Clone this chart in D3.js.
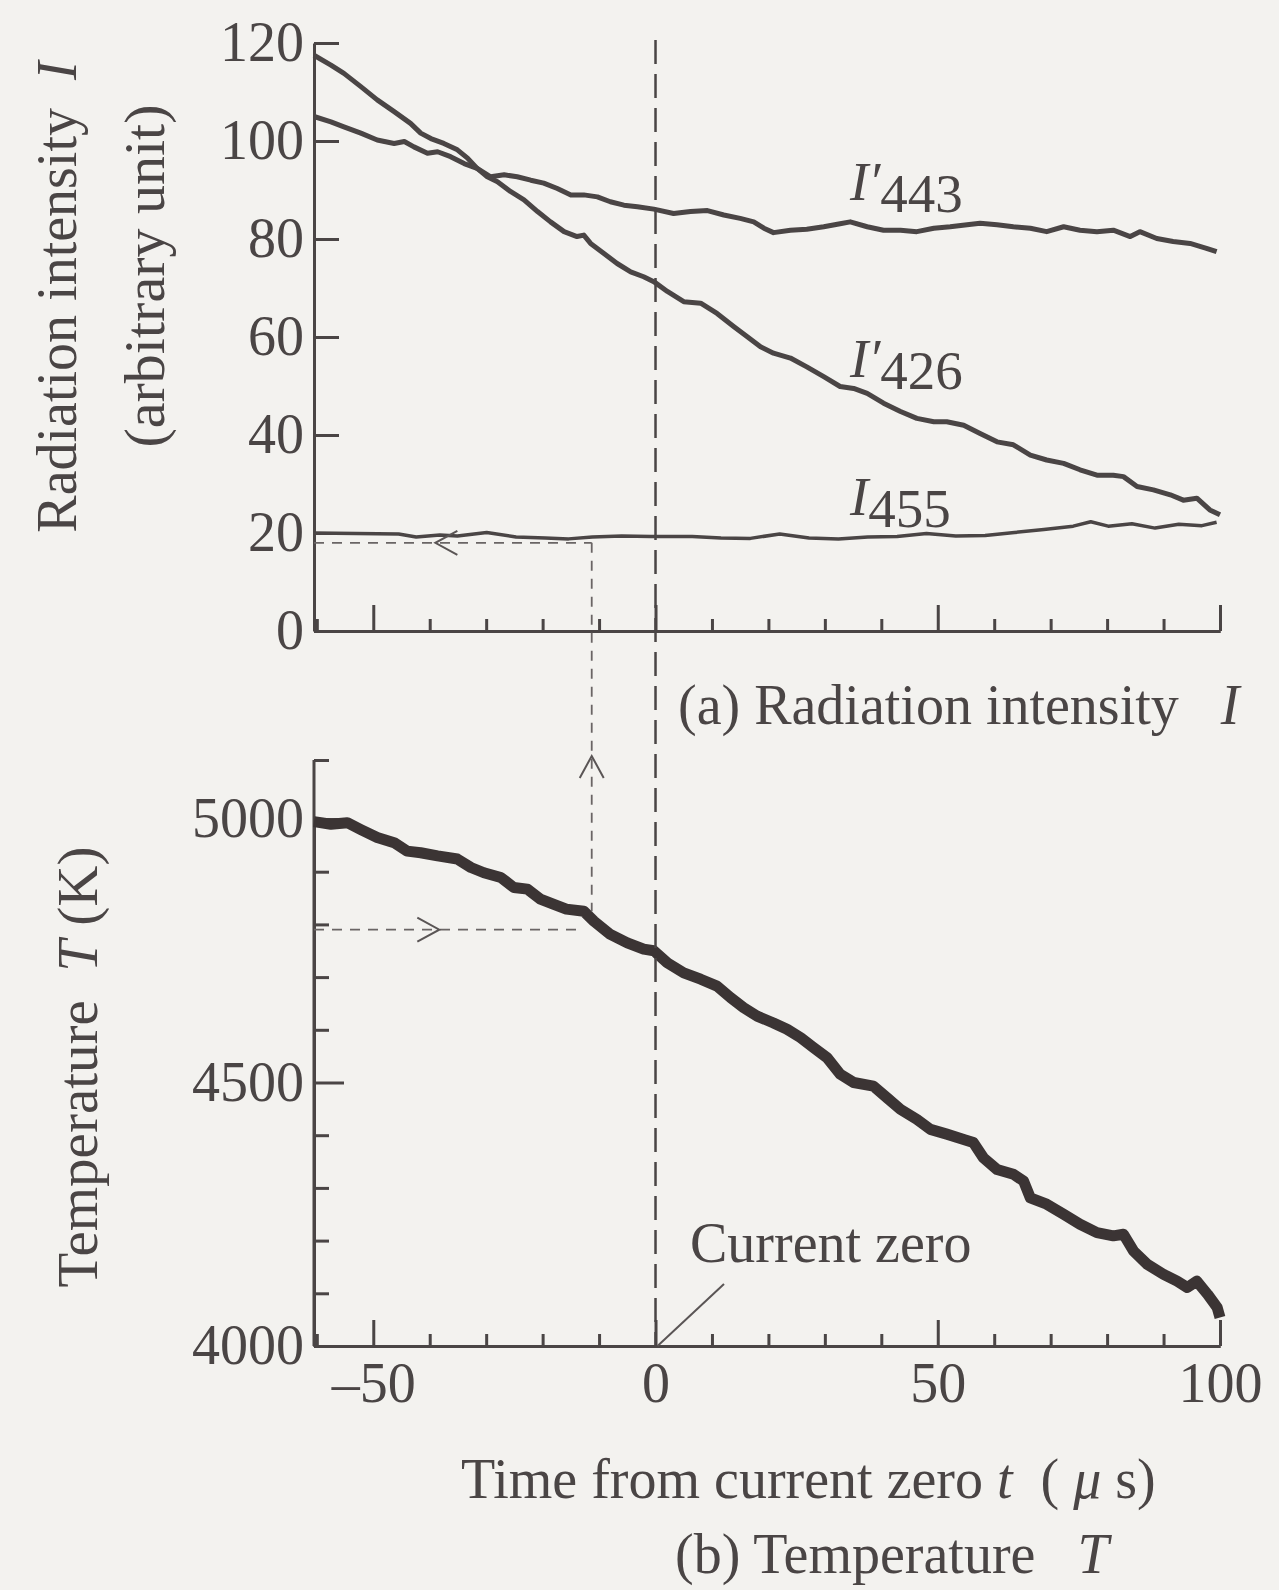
<!DOCTYPE html>
<html>
<head>
<meta charset="utf-8">
<script src="https://cdn.jsdelivr.net/npm/d3@7/dist/d3.min.js"></script>
<style>
  body { margin: 0; background: #f3f2ef; }
  svg text { font-family: "Liberation Serif", "Times New Roman", serif; fill: #4a4545; white-space: pre; }
</style>
</head>
<body>
<div id="chart"></div>
<script>
// time axis (microseconds) and tick values
var timeTicksMajor = [-50, 0, 50, 100];
var timeTicksMinor = [-60, -40, -30, -20, -10, 10, 20, 30, 40, 60, 70, 80, 90];
var intensityTicks = [0, 20, 40, 60, 80, 100, 120];
var tempTicksMajor = [4000, 4500, 5000];
var tempTicksMinor = [4100, 4200, 4300, 4400, 4600, 4700, 4800, 4900];

// I'426  [t, I]
var i426 = [[-60.5,117.5],[-57.5,115.5],[-55.2,113.8],[-52.2,111.1],[-49.3,108.4],[-46.3,106],[-43.4,103.6],[-41.6,101.6],
  [-39.8,100.5],[-37.5,99.5],[-35.1,98.2],[-33.3,96.5],[-31.6,94.4],[-29.8,92.7],[-28,91.7],[-25.7,89.7],[-23.3,88],
  [-20.9,85.6],[-18.6,83.5],[-16.2,81.5],[-13.9,80.5],[-12.7,80.8],[-11.5,79.1],[-9.2,77.1],[-6.8,75],[-4.4,73.3],
  [-2.1,72.3],[-0.3,71.3],[2.1,69.3],[5,67.2],[8,66.9],[10.9,64.8],[13.9,62.1],[16.2,60.1],[18.6,58],[20.9,56.7],
  [23.9,55.7],[26.8,53.9],[29.8,51.9],[32.7,49.9],[35.1,49.5],[37.5,48.5],[40.4,46.5],[43.4,44.8],[46.3,43.4],
  [49.3,42.7],[51.6,42.7],[54.6,42],[57.5,40.3],[60.5,38.6],[63.4,38],[66.4,35.9],[69.3,34.9],[72.3,34.2],[75.2,32.9],
  [78.2,31.8],[81.1,31.8],[82.9,31.5],[85.3,29.5],[88.2,28.8],[91.2,27.8],[93.5,26.7],[95.9,27.1],[98.2,24.7],[100,23.7]];

// I'443
var i443 = [[-60.5,105],[-57.5,103.9],[-55.2,102.9],[-52.2,101.6],[-49.3,100.2],[-46.3,99.5],[-44.5,99.9],[-42.8,98.8],
  [-40.4,97.5],[-38.6,97.8],[-36.3,96.8],[-33.9,95.4],[-31.6,94.4],[-29.2,92.7],[-26.8,93.1],[-24.5,92.7],[-22.1,92],
  [-19.8,91.4],[-17.4,90.3],[-15,89],[-12.7,89],[-10.3,88.6],[-8,87.6],[-5.6,86.9],[-3.2,86.6],[-0.3,86.1],[3.2,85.2],
  [6.2,85.6],[9.2,85.8],[12.1,84.9],[15,84.2],[17.4,83.5],[19.2,82.2],[20.9,81.3],[23.9,81.8],[26.8,82],[29.8,82.5],
  [32.7,83.1],[34.5,83.5],[37.5,82.5],[40.4,81.8],[43.4,81.8],[46.3,81.5],[49.3,82.2],[52.2,82.5],[55.2,82.9],
  [57.5,83.2],[60.5,82.9],[63.4,82.5],[66.4,82.2],[69.3,81.5],[72.3,82.5],[75.2,81.8],[78.2,81.5],[81.1,81.8],
  [84.1,80.5],[85.8,81.5],[88.8,80.1],[91.7,79.5],[94.7,79.1],[97.6,78.1],[99.4,77.4]];

// I455
var i455 = [[-60.5,20],[-45.5,19.8],[-42.4,19.2],[-38.2,19.6],[-35.1,19.4],[-29.9,20.1],[-24.7,19.2],[-19.5,19],
  [-15.4,18.8],[-11.2,19.2],[-6,19.4],[-0.8,19.3],[6.5,19.3],[11.6,19],[16.8,18.9],[22,19.8],[27.2,19],[32.4,18.8],
  [37.6,19.2],[42.8,19.3],[48,19.9],[53.2,19.4],[58.4,19.5],[63.6,20.1],[68.8,20.7],[74,21.4],[77.1,22.3],[80.2,21.4],
  [84.4,21.9],[88.5,21],[92.7,21.8],[96.8,21.5],[99.4,22.2]];

// temperature T (K)
var tempK = [[-60.5,4995],[-57.5,4990],[-54.6,4993],[-52.2,4980],[-49.3,4965],[-46.3,4955],[-44,4939],[-41.6,4936],
  [-38.6,4930],[-35.1,4924],[-32.7,4908],[-30.4,4898],[-27.4,4889],[-25.1,4870],[-22.7,4867],[-20.4,4848],[-18,4838],
  [-15.8,4829],[-12.7,4825],[-10.9,4806],[-8,4781],[-5,4765],[-2.1,4753],[-0.3,4750],[2.1,4727],[5,4708],[8,4696],
  [10.9,4683],[13.3,4661],[15.6,4642],[18,4626],[20.9,4613],[23.3,4601],[25.7,4585],[28,4566],[30.4,4547],[32.7,4516],
  [35.1,4500],[38.6,4493],[41,4471],[43.4,4449],[46.3,4430],[48.7,4411],[51.6,4402],[54.6,4392],[56.3,4386],[58.1,4357],
  [60.5,4335],[63.4,4326],[65.2,4313],[66.4,4281],[69.3,4269],[72.3,4250],[75.2,4231],[78.2,4215],[81.1,4209],
  [82.9,4212],[84.7,4180],[87.1,4155],[90,4136],[92.4,4123],[94.2,4111],[95.9,4123],[97.8,4098],[99.5,4073],[100,4054]];

// reading example (dashed construction lines)
var readT = -11.3, readI = 18, readTemp = 4825, readTempLine = 4790;

var ink = "#4a4545";

var width = 1279, height = 1590;
var svg = d3.select("#chart").append("svg")
  .attr("width", width)
  .attr("height", height);

svg.append("rect").attr("width", width).attr("height", height).attr("fill", "#f3f2ef");

var x = d3.scaleLinear().domain([-60.5, 100]).range([314, 1220]);
var yI = d3.scaleLinear().domain([0, 120]).range([631, 43]);
var yT = d3.scaleLinear().domain([4000, 5000]).range([1346, 819]);

var line = function(ys) {
  return d3.line().x(function(d) { return x(d[0]); }).y(function(d) { return ys(d[1]); });
};

// ---------- (a) radiation intensity ----------
var gTop = svg.append("g");

// y axis with inward ticks
gTop.append("g")
  .attr("class", "y axis")
  .attr("transform", "translate(" + x(-60.5) + ",0)")
  .call(d3.axisLeft(yI).tickValues(intensityTicks).tickSizeInner(-25).tickSizeOuter(0).tickPadding(10));

// x axis: minor and major ticks pointing up
gTop.append("g")
  .attr("transform", "translate(0," + yI(0) + ")")
  .call(d3.axisBottom(x).tickValues(timeTicksMinor).tickSizeInner(-12).tickSizeOuter(0).tickFormat(""));
gTop.append("g")
  .attr("transform", "translate(0," + yI(0) + ")")
  .call(d3.axisBottom(x).tickValues(timeTicksMajor).tickSizeInner(-26).tickSizeOuter(0).tickFormat(""));

// ---------- (b) temperature ----------
var gBot = svg.append("g");

gBot.append("g")
  .attr("transform", "translate(" + x(-60.5) + ",0)")
  .call(d3.axisLeft(yT).tickValues(tempTicksMajor).tickSizeInner(-30).tickSizeOuter(0).tickPadding(10)
    .tickFormat(d3.format("d")));
gBot.append("g")
  .attr("transform", "translate(" + x(-60.5) + ",0)")
  .call(d3.axisLeft(yT).tickValues(tempTicksMinor.concat([5112])).tickSizeInner(-15).tickSizeOuter(0).tickFormat(""));
// extend y axis up to top tick
gBot.append("line")
  .attr("x1", x(-60.5)).attr("x2", x(-60.5))
  .attr("y1", yT(5112)).attr("y2", yT(4000));

gBot.append("g")
  .attr("transform", "translate(0," + yT(4000) + ")")
  .call(d3.axisBottom(x).tickValues(timeTicksMinor).tickSizeInner(-12).tickSizeOuter(0).tickFormat(""));
gBot.append("g")
  .attr("class", "x labels")
  .attr("transform", "translate(0," + yT(4000) + ")")
  .call(d3.axisBottom(x).tickValues(timeTicksMajor).tickSizeInner(-26).tickSizeOuter(0).tickPadding(40)
    .tickFormat(function(d) { return d < 0 ? "\u2013" + Math.abs(d) : d; }));

// style axes
svg.selectAll(".domain, .tick line, line").attr("stroke", ink).attr("stroke-width", 3);
svg.selectAll(".tick text").attr("font-size", 56).attr("fill", ink)
  .attr("font-family", "Liberation Serif, serif");
svg.selectAll(".x.labels .tick text").attr("dy", "0.35em").attr("y", 36);

// ---------- curves ----------
gTop.append("path").datum(i443).attr("d", line(yI))
  .attr("fill", "none").attr("stroke", ink).attr("stroke-width", 5).attr("stroke-linejoin", "round");
gTop.append("path").datum(i426).attr("d", line(yI))
  .attr("fill", "none").attr("stroke", ink).attr("stroke-width", 5).attr("stroke-linejoin", "round");
gTop.append("path").datum(i455).attr("d", line(yI))
  .attr("fill", "none").attr("stroke", ink).attr("stroke-width", 3.5).attr("stroke-linejoin", "round");
gBot.append("path").datum(tempK).attr("d", line(yT))
  .attr("fill", "none").attr("stroke", "#3b3434").attr("stroke-width", 11).attr("stroke-linejoin", "round");

// ---------- current zero dashed line ----------
svg.append("line")
  .attr("x1", x(0)).attr("x2", x(0))
  .attr("y1", 40).attr("y2", yT(4000))
  .attr("stroke", ink).attr("stroke-width", 2.5).attr("stroke-dasharray", "24,10");

// ---------- construction lines ----------
var thin = { stroke: "#6a6565", "stroke-width": 1.8, "stroke-dasharray": "10,8", fill: "none" };
function dashed(x1, y1, x2, y2) {
  var l = svg.append("line").attr("x1", x1).attr("y1", y1).attr("x2", x2).attr("y2", y2);
  for (var k in thin) l.attr(k, thin[k]);
  return l;
}
dashed(x(-60.5), yI(readI), x(readT), yI(readI));
dashed(x(readT), yI(readI), x(readT), yT(readTemp));
dashed(x(-60.5), yT(readTempLine), x(-14), yT(readTempLine));

function chevron(px, py, dir) {
  // open arrow head: dir = "left" | "right" | "up"
  var a = 22, b = 12, pts;
  if (dir == "left") pts = [[px + a, py - b], [px, py], [px + a, py + b]];
  else if (dir == "right") pts = [[px - a, py - b], [px, py], [px - a, py + b]];
  else pts = [[px - b, py + a], [px, py], [px + b, py + a]];
  svg.append("path").attr("d", d3.line()(pts))
    .attr("fill", "none").attr("stroke", "#5a5555").attr("stroke-width", 2);
}
chevron(x(-39), yI(readI), "left");
chevron(x(readT), 756, "up");
chevron(x(-38.3), yT(readTempLine), "right");

// ---------- labels ----------
function label(txt, tx, ty, size) {
  return svg.append("text").attr("x", tx).attr("y", ty).attr("font-size", size || 56).text(txt);
}

function seriesLabel(tx, ty, prime, sub) {
  var t = svg.append("text").attr("x", tx).attr("y", ty).attr("font-size", 55);
  t.append("tspan").attr("font-style", "italic").text(prime ? "I\u2032" : "I");
  t.append("tspan").attr("dy", 12).text(sub);
}
seriesLabel(850, 200, true, "443");
seriesLabel(850, 377, true, "426");
seriesLabel(850, 515, false, "455");

var capA = svg.append("text").attr("x", 678).attr("y", 724).attr("font-size", 56);
capA.append("tspan").text("(a) Radiation intensity   ");
capA.append("tspan").attr("font-style", "italic").text("I");

var capB = svg.append("text").attr("x", 675).attr("y", 1573).attr("font-size", 56);
capB.append("tspan").text("(b) Temperature   ");
capB.append("tspan").attr("font-style", "italic").text("T");

var xt = svg.append("text").attr("x", 461).attr("y", 1498).attr("font-size", 56);
xt.append("tspan").text("Time from current zero ");
xt.append("tspan").attr("font-style", "italic").text("t");
xt.append("tspan").text("  ( ");
xt.append("tspan").attr("font-style", "italic").text("\u03bc");
xt.append("tspan").text(" s)");

label("Current zero", 690, 1262);
svg.append("line").attr("x1", x(0) + 2).attr("y1", yT(4000)).attr("x2", 724).attr("y2", 1284)
  .attr("stroke", "#5a5555").attr("stroke-width", 2);

var yl1 = svg.append("text").attr("transform", "translate(76,297) rotate(-90)")
  .attr("text-anchor", "middle").attr("font-size", 56);
yl1.append("tspan").text("Radiation intensity  ");
yl1.append("tspan").attr("font-style", "italic").text("I");

svg.append("text").attr("transform", "translate(164,276) rotate(-90)")
  .attr("text-anchor", "middle").attr("font-size", 58).text("(arbitrary unit)");

var yl2 = svg.append("text").attr("transform", "translate(97,1067) rotate(-90)")
  .attr("text-anchor", "middle").attr("font-size", 57);
yl2.append("tspan").text("Temperature  ");
yl2.append("tspan").attr("font-style", "italic").text("T");
yl2.append("tspan").text(" (K)");
</script>
</body>
</html>
